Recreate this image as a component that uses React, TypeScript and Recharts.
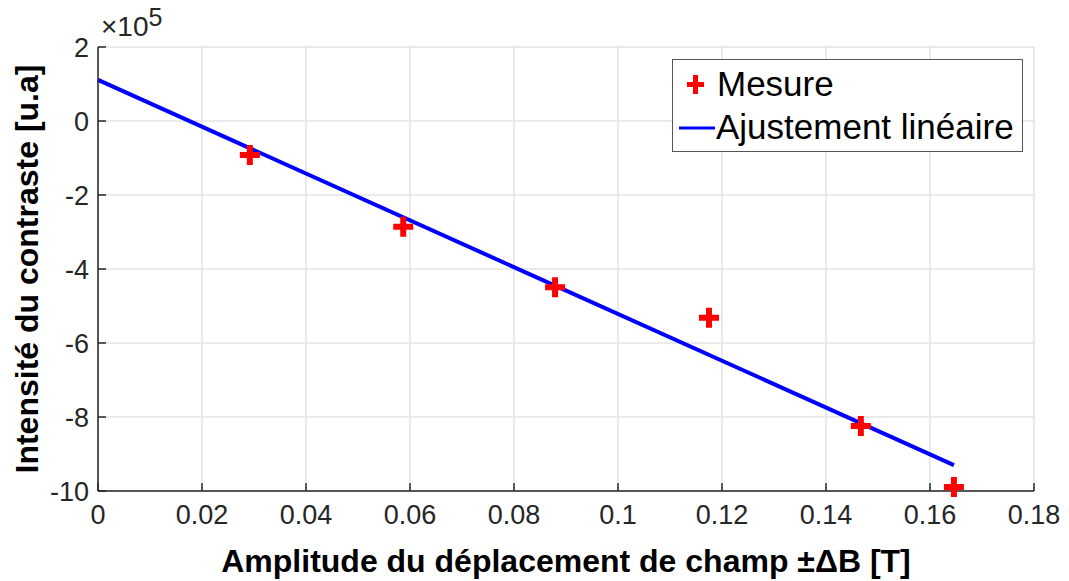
import React from 'react';
import { ComposedChart, Scatter, Line, XAxis, YAxis, CartesianGrid } from 'recharts';

const fieldAmplitude = [0.0292, 0.0587, 0.0879, 0.1175, 0.1467, 0.1646];
const contrast = [-0.92, -2.86, -4.49, -5.32, -8.24, -9.89];
const fitX = [0, 0.1646];
const fitY = [1.11, -9.3];
const xTicks = [0, 0.02, 0.04, 0.06, 0.08, 0.1, 0.12, 0.14, 0.16, 0.18];
const yTicks = [-10, -8, -6, -4, -2, 0, 2];

const measures = fieldAmplitude.map((x, i) => ({ x, y: contrast[i] }));
const fit = fitX.map((x, i) => ({ x, y: fitY[i] }));

const FONT = 'Liberation Sans, Arial, Helvetica, sans-serif';

const Cross = (props: any) => {
  const { cx, cy } = props;
  if (cx == null || cy == null) return null;
  const s = 10;
  const t = 3;
  return (
    <path
      d={`M${cx - s},${cy - t}H${cx - t}V${cy - s}H${cx + t}V${cy - t}H${cx + s}V${cy + t}H${cx + t}V${cy + s}H${cx - t}V${cy + t}H${cx - s}Z`}
      fill="#ff0000"
    />
  );
};

const YLabel = (props: any) => {
  const { viewBox } = props;
  const cy = viewBox.y + viewBox.height / 2;
  const cx = 27;
  return (
    <text
      x={cx}
      y={cy}
      transform={`rotate(-90, ${cx}, ${cy})`}
      textAnchor="middle"
      dominantBaseline="central"
      fill="#000"
      fontSize={32}
      fontWeight="bold"
      fontFamily={FONT}
    >
      Intensité du contraste [u.a]
    </text>
  );
};

const XLabel = (props: any) => {
  const { viewBox } = props;
  const cx = viewBox.x + viewBox.width / 2;
  return (
    <text
      x={cx}
      y={561}
      textAnchor="middle"
      dominantBaseline="central"
      fill="#000"
      fontSize={32}
      fontWeight="bold"
      fontFamily={FONT}
    >
      Amplitude du déplacement de champ ±ΔB [T]
    </text>
  );
};

export default function App() {
  return (
    <div style={{ position: 'absolute', left: 0, top: 0, width: 1069, height: 581, background: '#fff' }}>
      <ComposedChart
        width={1069}
        height={581}
        margin={{ top: 47, right: 35, bottom: 0, left: 0 }}
      >
        <CartesianGrid stroke="#e3e3e3" strokeWidth={1.5} />
        <XAxis
          type="number"
          dataKey="x"
          domain={[0, 0.18]}
          ticks={xTicks}
          height={90}
          stroke="#262626"
          strokeWidth={1.5}
          tickSize={-8}
          tickMargin={22}
          tick={{ fill: '#262626', fontSize: 27, fontFamily: FONT }}
          label={<XLabel />}
        />
        <YAxis
          type="number"
          dataKey="y"
          domain={[-10, 2]}
          ticks={yTicks}
          width={98}
          stroke="#262626"
          strokeWidth={1.5}
          tickSize={-8}
          tickMargin={17}
          tick={{ fill: '#262626', fontSize: 27, fontFamily: FONT }}
          label={<YLabel />}
        />
        <Line
          data={fit}
          dataKey="y"
          stroke="#0000ff"
          strokeWidth={4}
          dot={false}
          isAnimationActive={false}
          name="Ajustement linéaire"
        />
        <Scatter
          data={measures}
          dataKey="y"
          shape={Cross}
          isAnimationActive={false}
          name="Mesure"
        />
      </ComposedChart>
      <div
        style={{
          position: 'absolute',
          left: 672,
          top: 59,
          border: '1.5px solid #555',
          background: '#fff',
          width: 351,
          height: 93,
          boxSizing: 'border-box',
          fontFamily: FONT,
          fontSize: 35,
          color: '#000',
        }}
      >
        <svg width={48} height={93} style={{ position: 'absolute', left: 0, top: 0 }}>
          <path d="M14,22h6v-7h5v7h6v5h-6v7h-5v-7h-6z" fill="#ff0000" />
          <line x1={6} y1={68} x2={42} y2={68} stroke="#0000ff" strokeWidth={3} />
        </svg>
        <div style={{ position: 'absolute', left: 44, top: 4, lineHeight: '40px', whiteSpace: 'nowrap' }}>Mesure</div>
        <div style={{ position: 'absolute', left: 43, top: 47, lineHeight: '40px', whiteSpace: 'nowrap' }}>Ajustement linéaire</div>
      </div>
      <div
        style={{
          position: 'absolute',
          left: 101,
          top: 12,
          fontFamily: FONT,
          fontSize: 28,
          color: '#262626',
          lineHeight: '30px',
          whiteSpace: 'nowrap',
        }}
      >
        ×10<span style={{ fontSize: 25, position: 'relative', top: -10 }}>5</span>
      </div>
    </div>
  );
}
